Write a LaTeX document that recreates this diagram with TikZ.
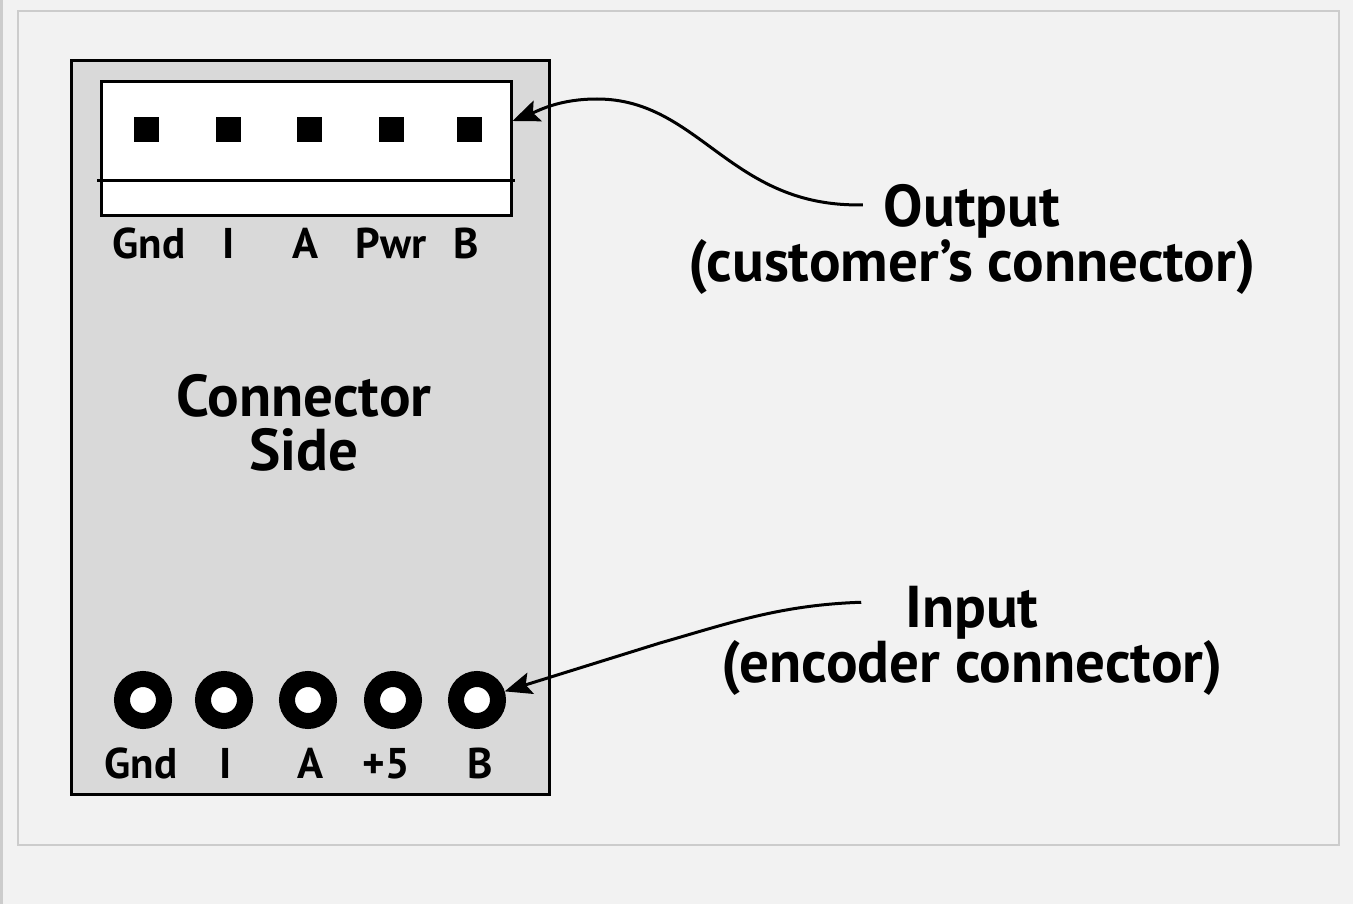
\documentclass[tikz,border=0pt]{standalone}
\usepackage{fontspec}
\setmainfont{PT Sans}
\usepackage{tikz}
\usetikzlibrary{arrows.meta}

\definecolor{bgcol}{HTML}{F2F2F2}
\definecolor{framecol}{HTML}{CCCCCC}
\definecolor{boardcol}{HTML}{D9D9D9}

\begin{document}
\begin{tikzpicture}[x=1pt,y=-1pt,
    pin/.style={fill=black,minimum size=25pt,inner sep=0pt},
    ring/.style={circle,draw=black,line width=16pt,fill=white,minimum size=42pt,inner sep=0pt},
    pinlbl/.style={font=\fontsize{43}{47}\selectfont\bfseries,anchor=base,inner sep=0pt},
    bigtxt/.style={font=\fontsize{59}{63}\selectfont\bfseries,anchor=base,inner ysep=0pt},
    lead/.style={line width=3pt,-{Stealth[length=27pt,width=22pt,inset=5pt]}}]
            \useasboundingbox[fill=bgcol] (0,0) rectangle (1353,904);
            \draw [framecol, line width=3pt] (1.5,0) -- (1.5,904);
            \draw [framecol, line width=2pt] (18,11) rectangle (1339,845);
            % board
            \node [draw, fill=boardcol, line width=3pt, minimum width=478pt, minimum height=733pt] (board) at (310,427.5) {};
            \node [draw, fill=white, line width=3pt, minimum width=410pt, minimum height=134pt] (hdr) at (306,149) {};
            \draw [line width=3pt] (97,181) -- (515,181);
            \foreach \x [count=\i] in {146,228,309,391,469}
                \node [pin] (out\i) at (\x,130) {};
            \foreach \x [count=\i] in {143,224,308,393,477}
                \node [ring] (in\i) at (\x,700) {};
            \node [pinlbl] (olbl1) at (149,259) {Gnd};
            \node [pinlbl] (olbl2) at (229,259) {I};
            \node [pinlbl] (olbl3) at (306,259) {A};
            \node [pinlbl] (olbl4) at (391,259) {Pwr};
            \node [pinlbl] (olbl5) at (466,259) {B};
            \node [pinlbl] (ilbl1) at (141,778) {Gnd};
            \node [pinlbl] (ilbl2) at (226,778) {I};
            \node [pinlbl] (ilbl3) at (311,778) {A};
            \node [pinlbl] (ilbl4) at (386,778) {+5};
            \node [pinlbl] (ilbl5) at (480,778) {B};
            \node [bigtxt] (side1) at (304,416) {Connector};
            \node [bigtxt] (side2) at (304,470) {Side};
            % labels on the right
            \node [bigtxt, inner xsep=21pt] (outtl) at (972,227) {Output};
            \node [bigtxt] (outsub) at (972,282) {(customer’s connector)};
            \node [bigtxt, inner xsep=44pt] (intl) at (972,627) {Input};
            \node [bigtxt] (insub) at (972,682) {(encoder connector)};
            \draw [lead] ([yshift=7pt]outtl.west) .. controls (730,208) and (700,99) .. (597,99)
                .. controls (560,99) and (540,110) .. ([yshift=28pt]hdr.east);
            \draw [lead] ([yshift=10pt]intl.west) .. controls (780,605) and (730,623) .. (660,643) -- (in5);
        \end{tikzpicture}
\end{document}
